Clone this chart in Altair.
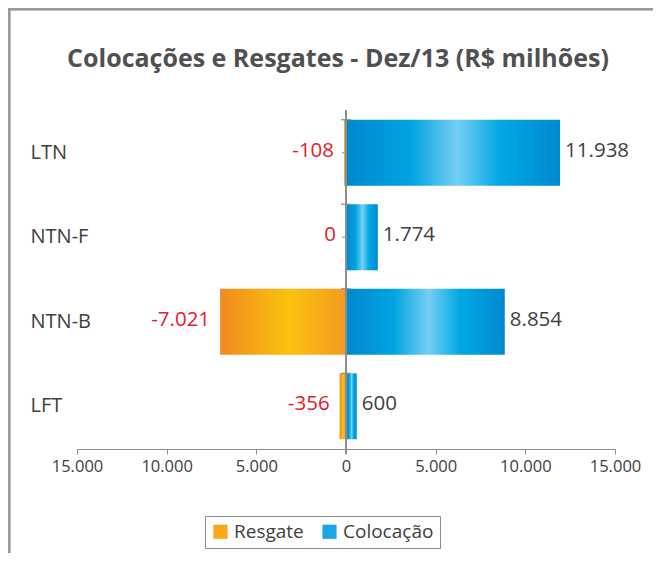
import altair as alt
import pandas as pd

categories = ["LTN", "NTN-F", "NTN-B", "LFT"]
resgate = [-108, 0, -7021, -356]
colocacao = [11938, 1774, 8854, 600]
x_ticks = [-15000, -10000, -5000, 0, 5000, 10000, 15000]
series_names = ["Resgate", "Colocação"]


def br(v):
    return f"{v:,}".replace(",", ".")


df = pd.DataFrame({
    "cat": categories,
    "resgate": resgate,
    "colocacao": colocacao,
    "res_label": [br(v) for v in resgate],
    "col_label": [br(v) for v in colocacao],
})

W, H = 538, 339
FONT = "Open Sans"

orange = alt.LinearGradient(
    gradient="linear", x1=0, x2=1, y1=0, y2=0,
    stops=[
        alt.GradientStop(offset=0, color="#F18A21"),
        alt.GradientStop(offset=0.55, color="#FCC20F"),
        alt.GradientStop(offset=1, color="#F39A1F"),
    ],
)
blue = alt.LinearGradient(
    gradient="linear", x1=0, x2=1, y1=0, y2=0,
    stops=[
        alt.GradientStop(offset=0, color="#0088CF"),
        alt.GradientStop(offset=0.3, color="#00A3E0"),
        alt.GradientStop(offset=0.52, color="#74CFF3"),
        alt.GradientStop(offset=0.72, color="#00A8E3"),
        alt.GradientStop(offset=1, color="#0089CF"),
    ],
)

xscale = alt.Scale(domain=[-15000, 15000], nice=False, zero=False)
yscale = alt.Scale(domain=categories, paddingInner=0.22, paddingOuter=0.115)

base = alt.Chart(df)

x_axis = alt.Axis(
    values=x_ticks,
    labelExpr="replace(format(abs(datum.value), ',.0f'), ',', '.')",
    grid=False, domainColor="#8c8c8c", tickColor="#8c8c8c", tickSize=5,
    labelFont=FONT, labelFontSize=16.5, labelColor="#404040", labelPadding=4,
    labelFlush=False, title=None,
)
y_axis = alt.Axis(
    labelAlign="left", labelPadding=47, ticks=False, domain=False,
    labelFont=FONT, labelFontSize=20, labelColor="#404040", title=None,
)

bars_res = base.mark_bar(color=orange).encode(
    x=alt.X("resgate:Q", scale=xscale, axis=x_axis),
    x2=alt.datum(0),
    y=alt.Y("cat:N", scale=yscale, axis=y_axis, sort=categories),
)
bars_col = base.mark_bar(color=blue).encode(
    x=alt.X("colocacao:Q", scale=xscale),
    x2=alt.datum(0),
    y=alt.Y("cat:N", scale=yscale, sort=categories),
)

txt_res = base.mark_text(align="right", baseline="middle", dx=-10, dy=-2,
                         font=FONT, fontSize=20.5, color="#E4202A").encode(
    x=alt.X("resgate:Q", scale=xscale),
    y=alt.Y("cat:N", scale=yscale, sort=categories),
    text="res_label:N",
)
txt_col = base.mark_text(align="left", baseline="middle", dx=5, dy=-2,
                         font=FONT, fontSize=20.5, color="#404040").encode(
    x=alt.X("colocacao:Q", scale=xscale),
    y=alt.Y("cat:N", scale=yscale, sort=categories),
    text="col_label:N",
)

zero_line = base.mark_rule(color="#8c8c8c", strokeWidth=1.2).encode(
    x=alt.datum(0),
    y=alt.value(0),
    y2=alt.value(H + 5),
)
bound_ticks = base.mark_rule(color="#8c8c8c", strokeWidth=1.2).encode(
    y=alt.Y("cat:N", scale=yscale, sort=categories, bandPosition=0),
    x=alt.datum(-280),
    x2=alt.datum(280),
)
center_ticks = base.mark_rule(color="#8c8c8c", strokeWidth=1).encode(
    y=alt.Y("cat:N", scale=yscale, sort=categories),
    x=alt.datum(-220),
    x2=alt.datum(0),
)

legend_df = pd.DataFrame({"serie": series_names, "v": [0, 0]})
legend_layer = alt.Chart(legend_df).transform_filter("false").mark_square(opacity=1).encode(
    color=alt.Color(
        "serie:N",
        scale=alt.Scale(domain=series_names, range=["#F7A81B", "#1AA6E2"]),
        legend=alt.Legend(
            title=None, orient="none", legendX=128, legendY=406,
            direction="horizontal", columns=2, symbolType="square",
            symbolSize=200, symbolStrokeWidth=0, symbolOpacity=1,
            labelFont=FONT, labelFontSize=19,
            labelColor="#404040", strokeColor="#8c8c8c", padding=6,
            columnPadding=16, labelOffset=4,
        ),
    ),
)

frame_top = base.mark_rule(color="#9a9a9a", strokeWidth=2.5).encode(
    x=alt.value(-68), x2=alt.value(700), y=alt.value(-101),
)
frame_left = base.mark_rule(color="#9a9a9a", strokeWidth=2.5).encode(
    x=alt.value(-68), y=alt.value(-102), y2=alt.value(470),
)

chart = alt.layer(
    frame_top, frame_left,
    center_ticks, bars_res, bars_col, zero_line, bound_ticks,
    txt_res, txt_col, legend_layer,
).properties(
    width=W, height=H,
    title=alt.Title(
        "Colocações e Resgates - Dez/13 (R$ milhões)",
        font=FONT, fontSize=25, fontWeight="bold", color="#505050",
        anchor="middle", dx=-8, offset=-65,
    ),
    autosize=alt.AutoSizeParams(type="none"),
    padding={"left": 69, "top": 102, "right": 38, "bottom": 104},
).configure(background="white").configure_view(stroke=None)

chart.save("out.html", embed_options={"renderer": "svg", "actions": False})
